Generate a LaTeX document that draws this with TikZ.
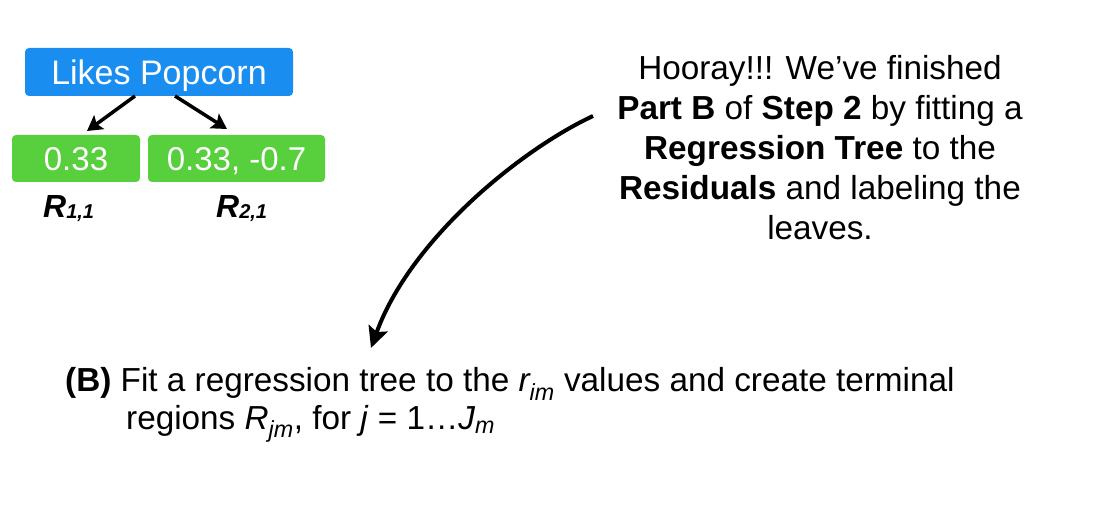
\documentclass[tikz,border=0pt]{standalone}
\usepackage{fontspec}
\setmainfont{Liberation Sans}
\usetikzlibrary{arrows.meta}
\definecolor{popblue}{HTML}{1A8EF0}
\definecolor{leafgreen}{HTML}{58CF3C}
\newcommand{\subidx}[1]{\raisebox{-1pt}{\fontsize{20}{22}\selectfont #1}}
\tikzset{
  bluebox/.style={rounded corners=4pt, text=white, inner sep=0pt, fill=popblue, minimum width=268pt, minimum height=48pt, text height=24.5pt, text depth=0pt, font=\fontsize{34}{36}\selectfont},
  greenbox/.style={rounded corners=4pt, text=white, inner sep=0pt, fill=leafgreen, minimum height=47pt, text height=23.8pt, text depth=0pt, font=\fontsize{33}{36}\selectfont},
  treearrow/.style={line width=3.5pt, -{Stealth[length=15pt,width=17pt,inset=3pt]}},
  bigarrow/.style={line width=4pt, -{Stealth[length=21pt,width=20pt,inset=4pt]}},
  rlabel/.style={font=\fontsize{32}{34}\selectfont\bfseries\itshape, inner sep=0pt, anchor=base west},
  bodytext/.style={font=\fontsize{33.3}{40}\selectfont, inner sep=0pt}
}
\begin{document}
\begin{tikzpicture}[x=1pt,y=-1pt]
\useasboundingbox (0,0) rectangle (1104,513);
\node[bluebox] (root) at (159,72) {Likes Popcorn};
\node[greenbox, minimum width=128pt] (leafa) at (76,158.5) {0.33};
\node[greenbox, minimum width=177pt] (leafb) at (236.5,158.5) {0.33, -0.7};
\node[rlabel] (ra) at (43,218) {R\subidx{1,1}};
\node[rlabel] (rb) at (216,218) {R\subidx{2,1}};
\coordinate (ra1) at (135,96);
\coordinate (rb1) at (175,96);
\coordinate (la1) at (87,131);
\coordinate (lb1) at (227,129);
\draw[treearrow] (ra1) -- (la1);
\draw[treearrow] (rb1) -- (lb1);
\node[bodytext, align=center] (hooray) at (820,148) {Hooray!!! We’ve finished\\
\textbf{Part B} of \textbf{Step 2} by fitting a\\
\textbf{Regression Tree} to the\\
\textbf{Residuals} and labeling the\\
leaves.};
\coordinate (cs) at (593,116);
\coordinate (ce) at (371,348);
\draw[bigarrow] (cs) .. controls (520,150) and (410,240) .. (ce);
\node[bodytext, anchor=west] (stepb) at (65,384) {\textbf{(B)} Fit a regression tree to the \textit{r\textsubscript{im}} values and create terminal};
\node[bodytext, anchor=west] (stepb2) at (126,424) {regions \textit{R\textsubscript{jm}}, for \textit{j} = 1…\textit{J\textsubscript{m}}};
\end{tikzpicture}
\end{document}
